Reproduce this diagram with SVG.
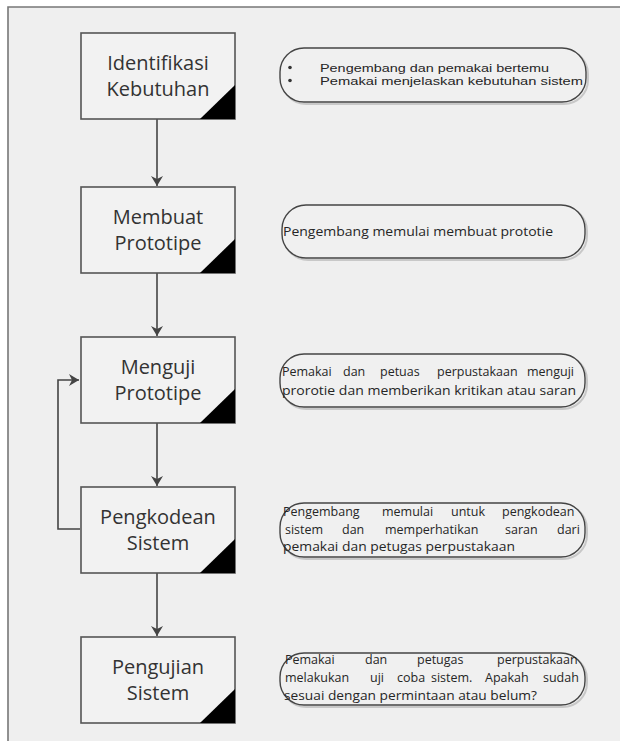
<svg xmlns="http://www.w3.org/2000/svg" width="620" height="741" viewBox="0 0 620 741">
<defs>
<style>
.box{fill:#f2f2f2;stroke:#555;stroke-width:1.6}
.tri{fill:#000}
.lbl{font-family:"Open Sans","Noto Sans",sans-serif;font-size:20px;fill:#333;text-anchor:middle}
.call{fill:#f0f0f0;stroke:#444;stroke-width:1.4}
.shd{fill:none;stroke:#c8c8c8;stroke-width:2}
.ct{font-family:"Open Sans","Noto Sans",sans-serif;font-size:12.5px;fill:#262626}
.c1{font-family:"Liberation Sans",Arial,sans-serif;font-size:11.5px;fill:#262626}
.conn{fill:none;stroke:#444;stroke-width:1.6}
</style>
<marker id="ah" markerWidth="12" markerHeight="12" refX="10" refY="6" orient="auto" markerUnits="userSpaceOnUse">
<path d="M0,0 L10,6 L0,12 L3,6 Z" fill="#444"/>
</marker>
</defs>
<rect x="0" y="0" width="620" height="741" fill="#fff"/>
<rect x="8" y="7" width="612" height="734" fill="#efefef"/>
<path d="M8,741 V7 H620" fill="none" stroke="#777" stroke-width="1.6"/>

<g id="connectors">
<path class="conn" d="M157,119 V186" marker-end="url(#ah)"/>
<path class="conn" d="M157,273 V336" marker-end="url(#ah)"/>
<path class="conn" d="M157,423 V486" marker-end="url(#ah)"/>
<path class="conn" d="M157,573 V636" marker-end="url(#ah)"/>
<path class="conn" d="M80,529 H58 V380 H79" marker-end="url(#ah)"/>
</g>

<g id="node1">
<rect class="box" x="81" y="33" width="154" height="86"/>
<path class="tri" d="M200,119 L235,85 L235,119 Z"/>
<text class="lbl" x="158" y="70">Identifikasi</text>
<text class="lbl" x="158" y="96">Kebutuhan</text>
</g>
<g id="node2">
<rect class="box" x="81" y="187" width="154" height="86"/>
<path class="tri" d="M200,273 L235,239 L235,273 Z"/>
<text class="lbl" x="158" y="224">Membuat</text>
<text class="lbl" x="158" y="250">Prototipe</text>
</g>
<g id="node3">
<rect class="box" x="81" y="337" width="154" height="86"/>
<path class="tri" d="M200,423 L235,389 L235,423 Z"/>
<text class="lbl" x="158" y="374">Menguji</text>
<text class="lbl" x="158" y="400">Prototipe</text>
</g>
<g id="node4">
<rect class="box" x="81" y="487" width="154" height="86"/>
<path class="tri" d="M200,573 L235,539 L235,573 Z"/>
<text class="lbl" x="158" y="524">Pengkodean</text>
<text class="lbl" x="158" y="550">Sistem</text>
</g>
<g id="node5">
<rect class="box" x="81" y="637" width="154" height="86"/>
<path class="tri" d="M200,723 L235,689 L235,723 Z"/>
<text class="lbl" x="158" y="674">Pengujian</text>
<text class="lbl" x="158" y="700">Sistem</text>
</g>

<g id="note1">
<rect class="shd" x="282" y="50" width="306" height="54" rx="24"/>
<rect class="call" x="280" y="48" width="306" height="54" rx="24"/>
<circle cx="290" cy="67.5" r="1.8" fill="#333"/>
<circle cx="290" cy="80.5" r="1.8" fill="#333"/>
<text class="c1" x="320" y="71.5" textLength="229" lengthAdjust="spacingAndGlyphs">Pengembang dan pemakai bertemu</text>
<text class="c1" x="320" y="84.5" textLength="263" lengthAdjust="spacingAndGlyphs">Pemakai menjelaskan kebutuhan sistem</text>
</g>
<g id="note2">
<rect class="shd" x="284" y="207" width="303" height="53" rx="24"/>
<rect class="call" x="282" y="205" width="303" height="53" rx="24"/>
<text class="ct" x="283" y="236" textLength="270" lengthAdjust="spacingAndGlyphs">Pengembang memulai membuat prototie</text>
</g>
<g id="note3">
<rect class="shd" x="282" y="356" width="305" height="53" rx="24"/>
<rect class="call" x="280" y="354" width="305" height="53" rx="24"/>
<text class="ct" y="376"><tspan x="282">Pemakai</tspan><tspan x="343">dan</tspan><tspan x="380">petuas</tspan><tspan x="437">perpustakaan</tspan><tspan x="527">menguji</tspan></text>
<text class="ct" x="282" y="395" textLength="294" lengthAdjust="spacingAndGlyphs">prorotie dan memberikan kritikan atau saran</text>
</g>
<g id="note4">
<rect class="shd" x="282" y="505" width="305" height="54" rx="24"/>
<rect class="call" x="280" y="503" width="305" height="54" rx="24"/>
<text class="ct" y="516"><tspan x="283">Pengembang</tspan><tspan x="382">memulai</tspan><tspan x="451">untuk</tspan><tspan x="502">pengkodean</tspan></text>
<text class="ct" y="534"><tspan x="285">sistem</tspan><tspan x="342">dan</tspan><tspan x="385">memperhatikan</tspan><tspan x="505">saran</tspan><tspan x="557">dari</tspan></text>
<text class="ct" x="283" y="551" textLength="232" lengthAdjust="spacingAndGlyphs">pemakai dan petugas perpustakaan</text>
</g>
<g id="note5">
<rect class="shd" x="282" y="655" width="305" height="52" rx="24"/>
<rect class="call" x="280" y="653" width="305" height="52" rx="24"/>
<text class="ct" y="664"><tspan x="285">Pemakai</tspan><tspan x="365">dan</tspan><tspan x="417">petugas</tspan><tspan x="497">perpustakaan</tspan></text>
<text class="ct" y="682"><tspan x="285">melakukan</tspan><tspan x="370">uji</tspan><tspan x="397">coba</tspan><tspan x="431">sistem.</tspan><tspan x="485">Apakah</tspan><tspan x="543">sudah</tspan></text>
<text class="ct" x="284" y="700" textLength="253" lengthAdjust="spacingAndGlyphs">sesuai dengan permintaan atau belum?</text>
</g>
</svg>
